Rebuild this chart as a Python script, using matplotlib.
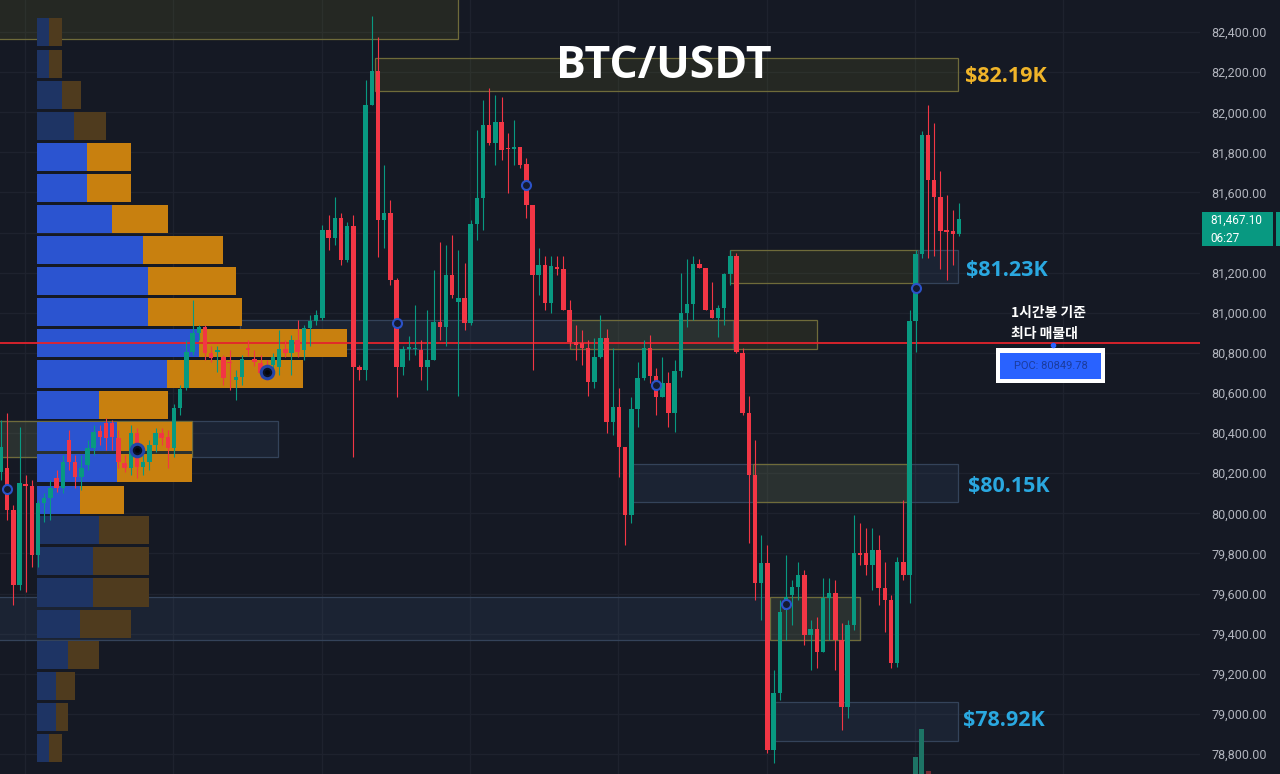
import matplotlib
matplotlib.use("Agg")
import matplotlib.pyplot as plt
import matplotlib.transforms as mtransforms
from matplotlib.patches import Rectangle

# ---------------- data ----------------
opens = [80207, 80227, 80017, 79643, 80147, 80137, 79793, 80052, 80077, 80177,
         80127, 80366, 80257, 80182, 80242, 80326, 80411, 80451, 80451, 80376,
         80252, 80227, 80401, 80232, 80257, 80341, 80401, 80381, 80326, 80526,
         80626, 80805, 80900, 80930, 80800, 80805, 80780, 80755, 80665, 80680,
         80825, 80770, 80750, 80720, 80740, 80730, 80820, 80800, 80865, 80815,
         80925, 80960, 80975, 81413, 81373, 81473, 81264, 81433, 80730, 80715,
         82037, 82206, 81463, 81498, 81164, 80730, 80820, 80820, 80815, 80730,
         80765, 80955, 80930, 81189, 81054, 81074, 80950, 81443, 81573, 81937,
         81847, 81952, 81822, 81817, 81827, 81742, 81538, 81189, 81239, 81049,
         81229, 81219, 81015, 80855, 80850, 80825, 80655, 80780, 80875, 80456,
         80531, 80331, 79992, 80521, 80675, 80825, 80685, 80581, 80650, 80501,
         80710, 80999, 81044, 81244, 81224, 81015, 80975, 81024, 81194, 81284,
         80800, 80501, 80192, 79653, 79753, 78821, 79105, 79519, 79593, 79633,
         79693, 79394, 79424, 79309, 79578, 79603, 79369, 79035, 79444, 79803,
         79803, 79743, 79818, 79628, 79569, 79254, 79758, 79693, 80960, 81294,
         81887, 81663, 81578, 81413, 81408, 81393]
highs = [80466, 80501, 80042, 80431, 80192, 80167, 80067, 80102, 80167, 80217,
         80291, 80416, 80291, 80291, 80366, 80441, 80441, 80476, 80466, 80416,
         80291, 80441, 80426, 80291, 80366, 80426, 80426, 80416, 80546, 80641,
         80865, 81064, 80940, 80940, 80835, 80835, 80790, 80815, 80715, 80790,
         80865, 80815, 80790, 80765, 80800, 80915, 80865, 80890, 80965, 80940,
         80990, 81015, 81438, 81488, 81578, 81498, 81453, 81488, 80740, 82161,
         82480, 82375, 81737, 81563, 81174, 80835, 80885, 81039, 80865, 81015,
         81214, 81353, 81338, 81388, 81314, 81249, 81463, 81912, 82061, 82121,
         82086, 82076, 81897, 81962, 81827, 81772, 81538, 81323, 81284, 81284,
         81284, 81284, 81064, 80940, 80915, 80865, 80875, 80990, 80920, 80825,
         80626, 80331, 80581, 80755, 80865, 80890, 80725, 80780, 80705, 80765,
         81199, 81269, 81284, 81269, 81224, 81154, 81039, 81199, 81314, 81299,
         80825, 80586, 80366, 79893, 79843, 79220, 79568, 79793, 79668, 79758,
         79718, 79469, 79484, 79678, 79678, 79668, 79454, 79469, 79992, 79952,
         79927, 79927, 79893, 79758, 79593, 79783, 80067, 81015, 81314, 81907,
         82037, 81947, 81707, 81588, 81513, 81548]
lows = [80167, 79967, 79544, 79618, 79608, 79733, 79733, 79957, 79967, 80107,
        80102, 80217, 80127, 80117, 80217, 80291, 80341, 80316, 80316, 80227,
        80207, 80192, 80177, 80192, 80217, 80306, 80341, 80227, 80281, 80491,
        80616, 80790, 80865, 80765, 80755, 80705, 80641, 80616, 80566, 80641,
        80785, 80735, 80675, 80665, 80715, 80690, 80780, 80690, 80780, 80765,
        80835, 80940, 80965, 81314, 81338, 81239, 81254, 80281, 80665, 80665,
        82037, 81279, 81323, 81139, 80581, 80690, 80765, 80790, 80665, 80616,
        80765, 80865, 80835, 81074, 80586, 80915, 80940, 81363, 81413, 81837,
        81737, 81762, 81597, 81737, 81722, 81473, 80715, 81089, 81015, 81000,
        81189, 81015, 80835, 80765, 80740, 80586, 80626, 80775, 80401, 80391,
        80182, 79843, 79952, 80431, 80665, 80650, 80491, 80581, 80431, 80406,
        80680, 80930, 80965, 81224, 81015, 80975, 80880, 80940, 81139, 80800,
        80491, 79853, 79568, 79469, 78806, 78756, 79070, 79369, 79444, 79569,
        79344, 79220, 79230, 79309, 79369, 79220, 78920, 78980, 79419, 79743,
        79693, 79618, 79544, 79409, 79230, 79235, 79668, 79553, 80805, 81274,
        81274, 81284, 81219, 81164, 81239, 81383]
closes = [80331, 80017, 79643, 80152, 80137, 79793, 80052, 80077, 80127, 80127,
          80257, 80257, 80182, 80227, 80326, 80406, 80381, 80376, 80381, 80257,
          80227, 80401, 80232, 80257, 80341, 80401, 80376, 80326, 80526, 80621,
          80805, 80900, 80930, 80800, 80775, 80815, 80675, 80750, 80680, 80770,
          80815, 80755, 80700, 80705, 80780, 80820, 80800, 80865, 80805, 80925,
          80960, 80990, 81413, 81373, 81473, 81264, 81433, 80730, 80715, 82037,
          82206, 81463, 81498, 81164, 80730, 80820, 80830, 80822, 80730, 80765,
          80955, 80930, 81189, 81089, 81074, 80950, 81443, 81573, 81937, 81847,
          81952, 81812, 81818, 81827, 81737, 81538, 81189, 81239, 81049, 81234,
          81219, 81015, 80855, 80840, 80825, 80655, 80780, 80875, 80456, 80531,
          80331, 79992, 80521, 80675, 80825, 80685, 80581, 80650, 80501, 80710,
          80999, 81044, 81244, 81224, 81015, 80975, 81024, 81194, 81284, 80805,
          80501, 80192, 79653, 79753, 78821, 79105, 79509, 79583, 79633, 79693,
          79394, 79424, 79309, 79578, 79603, 79369, 79035, 79444, 79803, 79793,
          79743, 79818, 79628, 79569, 79254, 79758, 79693, 80960, 81294, 81887,
          81663, 81578, 81408, 81403, 81393, 81467.1]

# volume profile rows (row mid price, buy volume, sell volume, inside value area)
vp_price = [82400, 82243, 82086, 81931, 81777, 81622, 81467, 81314, 81158, 81004,
            80850, 80695, 80540, 80383, 80226, 80067, 79915, 79760, 79605, 79449,
            79294, 79140, 78985, 78831]
vp_buy = [12, 12, 25, 37, 50, 50, 75, 106, 111, 111, 162, 130, 62, 80, 80, 43,
          62, 56, 56, 43, 31, 19, 19, 12]
vp_sell = [13, 13, 19, 32, 44, 44, 56, 80, 88, 94, 148, 136, 69, 75, 75, 44,
           50, 56, 56, 51, 31, 19, 12, 13]
vp_in_va = [0, 0, 0, 0, 1, 1, 1, 1, 1, 1, 1, 1, 1, 1, 1, 1, 0, 0, 0, 0, 0, 0, 0, 0]

# zones: start bar, end bar, low, high, kind
zone_start = [-5, 60.5, 118.0, 148.4, 38.7, 92.1, -5, -5, 102.1, 121.7, -5, 124.4, 125.2]
zone_end = [73.9, 154.9, 148.4, 154.9, 118.4, 132.0, 44.8, 30.9, 154.9, 146.6, 139.0, 139.0, 154.9]
zone_low = [82365, 82106, 81149, 81149, 80820, 80820, 80281, 80281, 80057, 80057, 79369, 79369, 78865]
zone_high = [82650, 82271, 81314, 81314, 80965, 80965, 80461, 80461, 80247, 80247, 79583, 79583, 79060]
zone_kind = ["olive", "olive", "olive", "blue", "blue", "olive", "blue", "olive", "blue", "olive", "blue", "olive", "blue"]

# signal markers (bar index, price, big)
mark_idx = [1, 22, 43, 64, 85, 106, 127, 148]
mark_price = [80122, 80316, 80705, 80950, 81637, 80640, 79549, 81124]
mark_big = [0, 1, 1, 0, 0, 0, 0, 0]

# visible volume bars
vol_idx = [148, 149, 150]
vol_val = [17, 45, 3]
vol_up = [1, 1, 0]

poc_price = 80849.78
last_price = 81467.10
level_labels = ["$82.19K", "$81.23K", "$80.15K", "$78.92K"]
level_colors = ["#f0b429", "#2aa8e0", "#2aa8e0", "#2aa8e0"]
yticks = [78800, 79000, 79200, 79400, 79600, 79800, 80000, 80200, 80400,
          80600, 80800, 81000, 81200, 81400, 81600, 81800, 82000, 82200, 82400]
hidden_tick = 81400  # covered by the last-price tag
vgrid = [3.9, 27.9, 51.9, 75.9, 99.9, 123.9, 147.9, 171.9]

# ---------------- style ----------------
BG = "#151924"
GREEN = "#089981"
RED = "#f23645"

fig = plt.figure(figsize=(12.8, 7.74), dpi=100)
fig.patch.set_facecolor(BG)
ax = fig.add_axes([0, 0, 1200 / 1280, 1])
ax.set_facecolor(BG)
ax.set_xlim(-0.16, 194.0)
ax.set_ylim(78700, 82560)

for s in ax.spines.values():
    s.set_visible(False)
ax.yaxis.tick_right()
ax.set_yticks(yticks)
ax.set_yticklabels(["" if v == hidden_tick else f"{v:,.2f}" for v in yticks],
                   fontfamily="Roboto", fontsize=9, color="#b2b5be")
ax.tick_params(axis="y", length=0, pad=8)
ax.set_xticks(vgrid)
ax.tick_params(axis="x", length=0, labelbottom=False)
ax.grid(True, color="#1e222e", lw=1)
ax.set_axisbelow(True)

# zones
for s0, s1, lo, hi, k in zip(zone_start, zone_end, zone_low, zone_high, zone_kind):
    if k == "olive":
        fc, ec = (0.60, 0.60, 0.13, 0.12), "#6f6b3a"
    else:
        fc, ec = (0.29, 0.42, 0.60, 0.13), "#34435a"
    ax.add_patch(Rectangle((s0, lo), s1 - s0, hi - lo, facecolor=fc, edgecolor=ec, lw=0.9, zorder=1))

# volume profile (x in volume units, starting 37 px from left edge)
trans_vp = mtransforms.blended_transform_factory(
    mtransforms.Affine2D().translate(37, 0).scale(1 / 1200, 1) + ax.transAxes, ax.transData)
row_h = 140
for p, b, s, va in zip(vp_price, vp_buy, vp_sell, vp_in_va):
    cb = "#2b54d0" if va else "#1e3464"
    cs = "#c8800f" if va else "#4f3b1e"
    ax.add_patch(Rectangle((0, p - row_h / 2), b, row_h, facecolor=cb, edgecolor="none",
                           transform=trans_vp, zorder=2))
    ax.add_patch(Rectangle((b, p - row_h / 2), s, row_h, facecolor=cs, edgecolor="none",
                           transform=trans_vp, zorder=2))

# POC line
ax.axhline(poc_price, color="#e3232c", lw=1.3, zorder=4)

# candles
for i, (o, h, l, c) in enumerate(zip(opens, highs, lows, closes)):
    col = GREEN if c >= o else RED
    ax.vlines(i, l, h, color=col, lw=0.8, zorder=5)
    bot = min(o, c)
    ht = max(abs(c - o), 6)
    ax.add_patch(Rectangle((i - 0.36, bot), 0.72, ht, facecolor=col, edgecolor="none", zorder=6))

# volume bars at bottom
trans_vol = mtransforms.blended_transform_factory(
    ax.transData, mtransforms.Affine2D().scale(1, 1 / 774) + ax.transAxes)
for i, v, up in zip(vol_idx, vol_val, vol_up):
    ax.add_patch(Rectangle((i - 0.4, 0), 0.8, v, facecolor="#1d7465" if up else "#7a2a33",
                           edgecolor="none", transform=trans_vol, zorder=6))

# markers
for i, p, big in zip(mark_idx, mark_price, mark_big):
    if big:
        ax.plot(i, p, marker="o", ms=9, mfc="#0b1226", mec="#2446a8", mew=2.2, zorder=7)
        ax.plot(i, p, marker="o", ms=3.5, mfc="#05070d", mec="none", zorder=8)
    else:
        ax.plot(i, p, marker="o", ms=6.5, mfc="#141b30", mec="#2b52c8", mew=1.5, zorder=7)

# ---------------- overlay annotations (pixel coords) ----------------
ov = fig.add_axes([0, 0, 1, 1])
ov.set_xlim(0, 1280)
ov.set_ylim(774, 0)
ov.axis("off")
ov.patch.set_alpha(0)

ov.text(664, 67, "BTC/USDT", color="white", fontsize=32, fontweight="bold",
        fontfamily="Open Sans", ha="center", va="center")

label_y = [76, 270, 486, 721]
label_x = [965, 966, 968, 963]
for t, c, x, y in zip(level_labels, level_colors, label_x, label_y):
    ov.text(x, y, t, color=c, fontsize=15.5, fontweight="bold", fontfamily="Open Sans",
            ha="left", va="center")

kfam = ["Noto Sans CJK KR", "DejaVu Sans"]
ov.text(1011, 313, "1시간봉 기준", color="white", fontsize=10, fontweight="bold",
        family=kfam, ha="left", va="center")
ov.text(1011, 334, "최다 매물대", color="white", fontsize=10, fontweight="bold",
        family=kfam, ha="left", va="center")

ov.add_patch(Rectangle((996, 348), 109, 35, facecolor="white", edgecolor="none"))
ov.add_patch(Rectangle((1000, 352.5), 101, 26.5, facecolor="#2962ff", edgecolor="none"))
ov.text(1050.5, 366, f"POC: {poc_price:.2f}", color="#1b3c9e", fontsize=8,
        fontfamily="Roboto", ha="center", va="center")
ov.plot(1053, 345, marker="o", ms=3, color="#2962ff")

# last price tag
ov.add_patch(Rectangle((1202, 212), 71, 34, facecolor=GREEN, edgecolor="none"))
ov.add_patch(Rectangle((1276, 212), 4, 34, facecolor=GREEN, edgecolor="none"))
ov.text(1210, 220, f"{last_price:,.2f}", color="white", fontsize=8.5, fontfamily="Roboto",
        ha="left", va="center")
ov.text(1210, 238, "06:27", color="white", fontsize=8.5, fontfamily="Roboto",
        ha="left", va="center")

fig.savefig("out.png", dpi=100, facecolor=BG)
